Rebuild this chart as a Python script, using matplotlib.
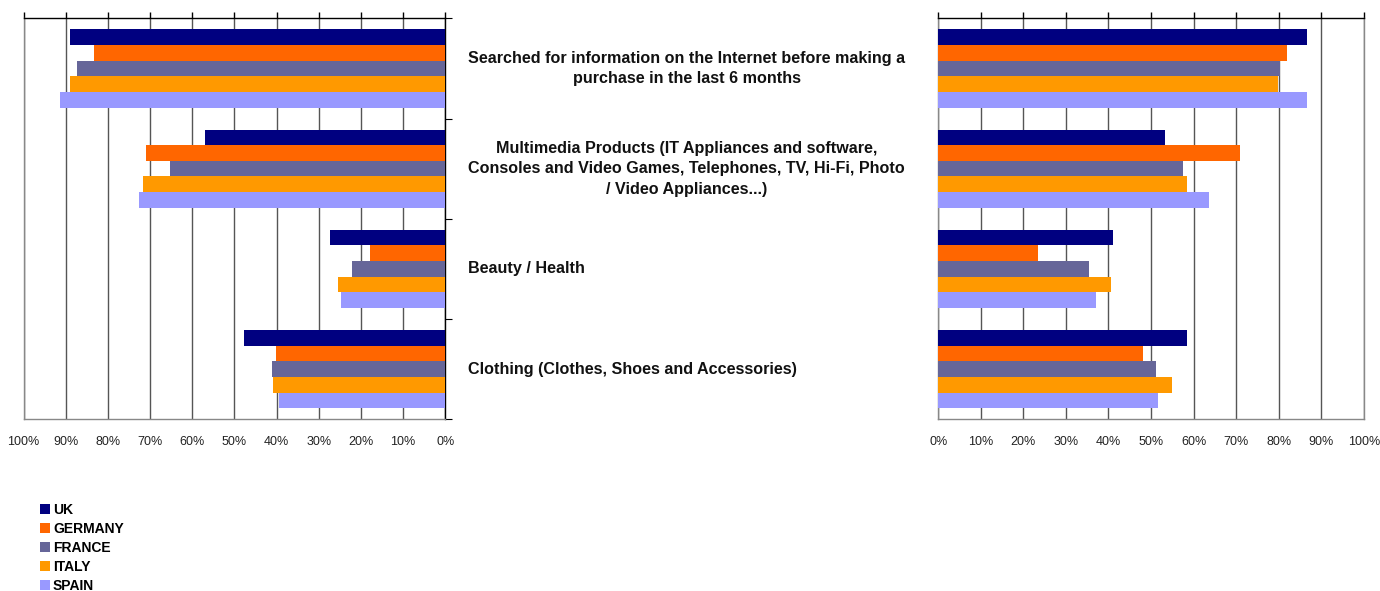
import matplotlib
matplotlib.use("Agg")
import matplotlib.pyplot as plt
import matplotlib.transforms as mtransforms
from matplotlib.patches import Patch
from matplotlib.ticker import FuncFormatter
import numpy as np

plt.rcParams['font.family'] = ['Liberation Sans', 'DejaVu Sans']

categories = [
    "Searched for information on the Internet before making a\npurchase in the last 6 months",
    "Multimedia Products (IT Appliances and software,\nConsoles and Video Games, Telephones, TV, Hi-Fi, Photo\n/ Video Appliances...)",
    "Beauty / Health",
    "Clothing (Clothes, Shoes and Accessories)",
]
countries = ["UK", "GERMANY", "FRANCE", "ITALY", "SPAIN"]
colors = ["#000080", "#FF6600", "#666699", "#FF9900", "#9999FF"]

# share per country, one entry per category (top to bottom)
left_values = {
    "UK":      [0.89, 0.57, 0.273, 0.477],
    "GERMANY": [0.833, 0.71, 0.179, 0.401],
    "FRANCE":  [0.873, 0.653, 0.221, 0.41],
    "ITALY":   [0.89, 0.717, 0.254, 0.408],
    "SPAIN":   [0.913, 0.726, 0.247, 0.394],
}
right_values = {
    "UK":      [0.867, 0.533, 0.411, 0.585],
    "GERMANY": [0.82, 0.709, 0.234, 0.481],
    "FRANCE":  [0.803, 0.575, 0.354, 0.512],
    "ITALY":   [0.798, 0.585, 0.406, 0.549],
    "SPAIN":   [0.867, 0.637, 0.371, 0.517],
}
ticks = np.arange(0, 1.01, 0.1)

W, H = 1380, 591
fig = plt.figure(figsize=(W / 100, H / 100), dpi=100)
ax_l = fig.add_axes([23.5 / W, 1 - 419.3 / H, 421.8 / W, 401 / H])
ax_r = fig.add_axes([938.3 / W, 1 - 419.3 / H, 425.4 / W, 401 / H])

n = len(countries)
bar_h = 0.156
y = np.arange(len(categories))
pct = FuncFormatter(lambda v, _: f"{v * 100:.0f}%")

for ax, data in ((ax_l, left_values), (ax_r, right_values)):
    for i, c in enumerate(countries):
        offs = (i - (n - 1) / 2) * bar_h
        ax.barh(y + offs, data[c], height=bar_h, color=colors[i], zorder=3)
    ax.set_ylim(len(categories) - 0.5, -0.5)
    ax.set_xticks(ticks)
    ax.xaxis.set_major_formatter(pct)
    ax.xaxis.grid(True, color="#555555", lw=1, zorder=0)
    ax.tick_params(axis="x", top=True, bottom=False, labeltop=False,
                   labelbottom=True, direction="out", length=4, width=1,
                   pad=8, labelsize=9, labelcolor="#222222")
    ax.spines["top"].set_color("black")
    ax.spines["bottom"].set_color("#888888")
    for s in ax.spines.values():
        s.set_linewidth(1)

ax_l.set_xlim(1, 0)
ax_l.set_yticks(np.arange(-0.5, len(categories), 1))
ax_l.yaxis.tick_right()
ax_l.tick_params(axis="y", direction="out", length=5, labelright=False)
ax_l.spines["right"].set_color("black")
ax_l.spines["left"].set_color("#888888")

ax_r.set_xlim(0, 1)
ax_r.set_yticks([])
ax_r.spines["left"].set_color("#888888")
ax_r.spines["right"].set_color("#888888")

# category labels between the two panels
trans = mtransforms.blended_transform_factory(fig.transFigure, ax_l.transData)
for k, label in enumerate(categories):
    fig.text(468 / W, k, label, transform=trans, ha="left", va="center",
             multialignment="center", fontsize=11.6, fontweight="bold",
             linespacing=1.45, color="#111111")

handles = [Patch(facecolor=c, edgecolor="none") for c in colors]
fig.legend(handles, countries, loc="upper left",
           bbox_to_anchor=(34 / W, 1 - 497 / H), frameon=False,
           prop={"size": 10, "weight": "bold"}, handlelength=0.75,
           handleheight=0.75, handletextpad=0.22, labelspacing=0.36,
           borderaxespad=0)

fig.savefig("out.png", dpi=100)
